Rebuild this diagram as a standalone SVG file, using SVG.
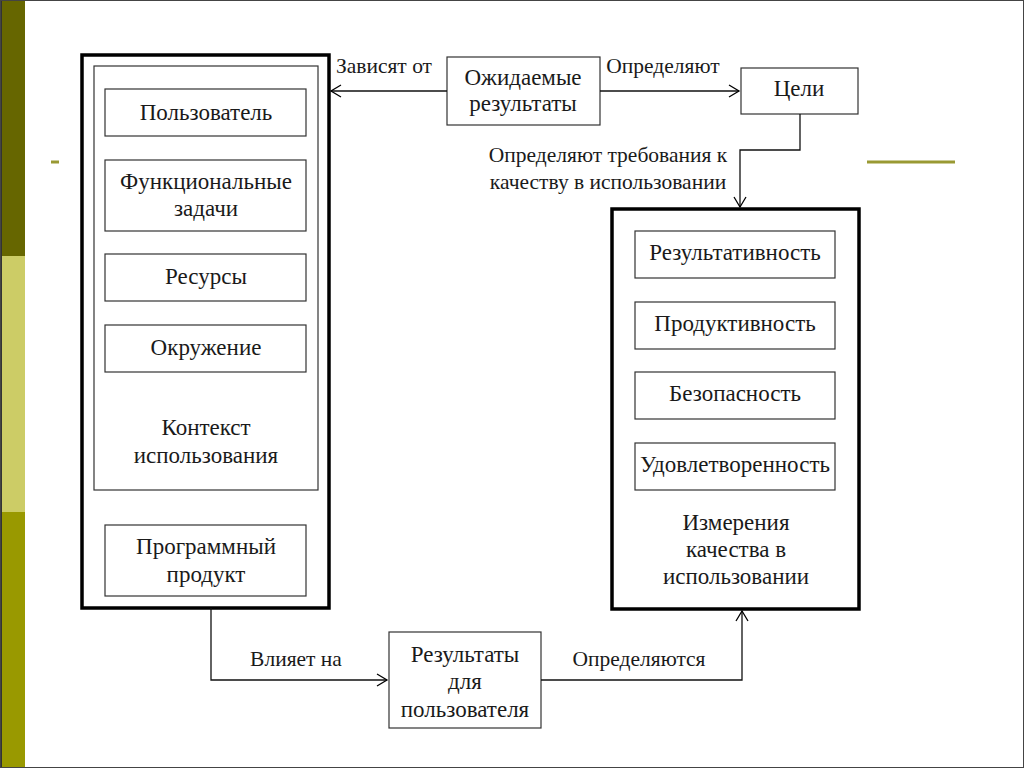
<svg xmlns="http://www.w3.org/2000/svg" width="1024" height="768" viewBox="0 0 1024 768">
<defs>
<marker id="arr" markerWidth="14" markerHeight="14" refX="11" refY="7" orient="auto" markerUnits="userSpaceOnUse">
<path d="M1,1 L11,7 L1,13" fill="none" stroke="#000" stroke-width="1.3"/>
</marker>
<style>
text{font-family:"Liberation Serif","Times New Roman",serif;font-size:23px;fill:#1a1a1a;text-anchor:middle}
text.lbl{font-size:21.5px}
.box{fill:#fff;stroke:#333;stroke-width:1.2}
.thick{fill:#fff;stroke:#000;stroke-width:3.5}
.conn{fill:none;stroke:#111;stroke-width:1.3}
</style>
</defs>
<rect x="0" y="0" width="1024" height="768" fill="#fff"/>
<g id="decor">
<rect x="0" y="0" width="25" height="256" fill="#666600"/>
<rect x="0" y="256" width="25" height="256" fill="#cccc66"/>
<rect x="0" y="512" width="25" height="256" fill="#999900"/>
<rect x="0" y="0" width="2" height="768" fill="#333"/>
<rect x="0.5" y="0.5" width="1023" height="767" fill="none" stroke="#444" stroke-width="1"/>
<line x1="51" y1="162" x2="59" y2="162" stroke="#999933" stroke-width="3"/>
<line x1="867" y1="162" x2="955" y2="162" stroke="#999933" stroke-width="3"/>
</g>
<g id="context">
<rect class="thick" x="82" y="55" width="247" height="553"/>
<rect class="box" x="94" y="66" width="224" height="424"/>
<text x="206" y="435">Контекст</text>
<text x="206" y="463">использования</text>
</g>
<g id="user"><rect class="box" x="105" y="89" width="201" height="47"/><text x="206" y="120">Пользователь</text></g>
<g id="tasks"><rect class="box" x="105" y="160" width="201" height="71"/><text x="206" y="189">Функциональные</text><text x="206" y="216">задачи</text></g>
<g id="resources"><rect class="box" x="105" y="254" width="201" height="47"/><text x="206" y="284">Ресурсы</text></g>
<g id="environment"><rect class="box" x="105" y="325" width="201" height="47"/><text x="206" y="355">Окружение</text></g>
<g id="product"><rect class="box" x="105" y="525" width="201" height="71"/><text x="206" y="554">Программный</text><text x="206" y="582">продукт</text></g>
<g id="expected"><rect class="box" x="447" y="57" width="153" height="68"/><text x="523" y="85">Ожидаемые</text><text x="523" y="111">результаты</text></g>
<g id="goals"><rect class="box" x="741" y="68" width="117" height="46"/><text x="799" y="96">Цели</text></g>
<g id="quality">
<rect class="thick" x="612" y="209" width="247" height="400"/>
<text x="736" y="530">Измерения</text>
<text x="736" y="557">качества в</text>
<text x="736" y="584">использовании</text>
</g>
<g id="effectiveness"><rect class="box" x="635" y="231" width="200" height="47"/><text x="735" y="260">Результативность</text></g>
<g id="productivity"><rect class="box" x="635" y="302" width="200" height="47"/><text x="735" y="331">Продуктивность</text></g>
<g id="safety"><rect class="box" x="635" y="372" width="200" height="47"/><text x="735" y="401">Безопасность</text></g>
<g id="satisfaction"><rect class="box" x="635" y="443" width="200" height="47"/><text x="735" y="472">Удовлетворенность</text></g>
<g id="userresults"><rect class="box" x="389" y="632" width="152" height="96"/><text x="465" y="662">Результаты</text><text x="465" y="689">для</text><text x="465" y="717">пользователя</text></g>
<g id="connectors">
<path class="conn" d="M447,91 H331" marker-end="url(#arr)"/>
<path class="conn" d="M600,91 H739" marker-end="url(#arr)"/>
<path class="conn" d="M800,114 V150 H740 V207" marker-end="url(#arr)"/>
<path class="conn" d="M211,608 V680 H387" marker-end="url(#arr)"/>
<path class="conn" d="M541,680 H742 V611" marker-end="url(#arr)"/>
<text class="lbl" x="384" y="73">Зависят от</text>
<text class="lbl" x="663" y="73">Определяют</text>
<text class="lbl" x="608" y="162">Определяют требования к</text>
<text class="lbl" x="608" y="189">качеству в использовании</text>
<text class="lbl" x="296" y="666">Влияет на</text>
<text class="lbl" x="639" y="666">Определяются</text>
</g>
</svg>
